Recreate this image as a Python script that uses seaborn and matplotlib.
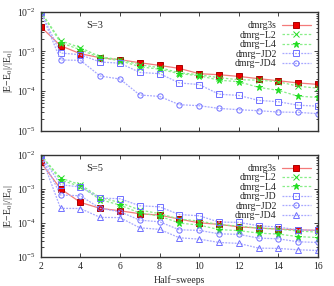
import matplotlib
matplotlib.use("Agg")
import matplotlib.pyplot as plt
import matplotlib.ticker as mticker
import pandas as pd
import seaborn as sns

sweeps = [2, 3, 4, 5, 6, 7, 8, 9, 10, 11, 12, 13, 14, 15, 16]

# S=3 panel
s3_dmrg3s = [4.19e-3, 1.39e-3, 8.73e-4, 6.92e-4, 6.17e-4, 5.18e-4, 4.43e-4, 3.72e-4,
             2.74e-4, 2.58e-4, 2.34e-4, 2.05e-4, 1.82e-4, 1.60e-4, 1.47e-4]
s3_L2 = [1.0e-2, 1.86e-3, 1.24e-3, 7.34e-4, 6.17e-4, 4.61e-4, 3.88e-4, 2.90e-4,
         2.58e-4, 2.17e-4, 1.93e-4, 1.88e-4, 1.72e-4, 1.32e-4, 1.18e-4]
s3_L4 = [1.0e-2, 1.66e-3, 1.10e-3, 6.92e-4, 5.82e-4, 4.11e-4, 3.55e-4, 2.74e-4,
         2.44e-4, 1.88e-4, 1.72e-4, 1.24e-4, 1.04e-4, 7.41e-5, 6.92e-5]
s3_JD2 = [1.0e-2, 9.10e-4, 8.24e-4, 5.40e-4, 5.04e-4, 2.95e-4, 2.74e-4, 1.60e-4,
          1.46e-4, 8.32e-5, 7.76e-5, 5.81e-5, 5.38e-5, 4.40e-5, 4.15e-5]
s3_JD4 = [1.0e-2, 6.06e-4, 5.95e-4, 2.39e-4, 2.01e-4, 7.94e-5, 7.33e-5, 4.53e-5,
          4.27e-5, 3.65e-5, 3.39e-5, 3.19e-5, 2.96e-5, 2.90e-5, 2.69e-5]

# S=5 panel
s5_dmrg3s = [6.10e-3, 1.02e-3, 4.06e-4, 2.71e-4, 2.30e-4, 1.88e-4, 1.72e-4, 1.31e-4,
             1.02e-4, 9.16e-5, 7.78e-5, 7.13e-5, 6.67e-5, 6.35e-5, 6.10e-5]
s5_L2 = [1.0e-2, 2.11e-3, 1.34e-3, 5.62e-4, 4.01e-4, 2.41e-4, 1.90e-4, 1.31e-4,
         1.15e-4, 9.04e-5, 8.17e-5, 7.13e-5, 6.67e-5, 5.82e-5, 5.43e-5]
s5_L4 = [1.0e-2, 1.84e-3, 1.19e-3, 4.91e-4, 3.38e-4, 1.97e-4, 1.61e-4, 1.00e-4,
         8.73e-5, 6.44e-5, 6.01e-5, 5.08e-5, 4.74e-5, 4.01e-5, 3.75e-5]
s5_JD = [1.0e-2, 1.34e-3, 1.15e-3, 5.43e-4, 5.19e-4, 3.23e-4, 3.01e-4, 1.78e-4,
         1.64e-4, 1.07e-4, 1.05e-4, 8.34e-5, 7.62e-5, 6.35e-5, 6.10e-5]
s5_JD2 = [1.0e-2, 6.67e-4, 6.35e-4, 2.71e-4, 2.15e-4, 1.22e-4, 1.09e-4, 6.35e-5,
          6.10e-5, 4.84e-5, 4.66e-5, 3.62e-5, 3.45e-5, 2.82e-5, 2.70e-5]
s5_JD4 = [1.0e-2, 2.71e-4, 2.68e-4, 1.47e-4, 1.45e-4, 7.28e-5, 6.53e-5, 3.70e-5,
          3.38e-5, 2.70e-5, 2.53e-5, 1.84e-5, 1.80e-5, 1.64e-5, 1.57e-5]

sns.set_style("ticks")
plt.rcParams["font.family"] = ["Liberation Serif", "DejaVu Serif"]
plt.rcParams["mathtext.fontset"] = "stix"
plt.rcParams["xtick.direction"] = "in"
plt.rcParams["ytick.direction"] = "in"

RED, RED_L = "#ee0000", "#f47a7a"
GRN, GRN_L = "#22dd22", "#88ee88"
BLU, BLU_L = "#7070ff", "#a8a8ff"

# label -> (line color, marker face, marker edge, linestyle)
styles = {
    "dmrg3s": (RED_L, RED, "#aa0000", "-"),
    "dmrg\u2212L2": (GRN_L, GRN, GRN, (0, (2, 1.5))),
    "dmrg\u2212L4": (GRN_L, GRN, GRN, (0, (2, 1.5))),
    "dmrg\u2212JD": (BLU_L, "none", BLU, (0, (1.5, 1))),
    "dmrg\u2212JD2": (BLU_L, "none", BLU, (0, (1.5, 1))),
    "dmrg\u2212JD4": (BLU_L, "none", BLU, (0, (1.5, 1))),
}

top_series = [
    ("dmrg3s", s3_dmrg3s, "s"),
    ("dmrg\u2212L2", s3_L2, "x"),
    ("dmrg\u2212L4", s3_L4, "*"),
    ("dmrg\u2212JD2", s3_JD2, "s"),
    ("dmrg\u2212JD4", s3_JD4, "o"),
]
bot_series = [
    ("dmrg3s", s5_dmrg3s, "s"),
    ("dmrg\u2212L2", s5_L2, "x"),
    ("dmrg\u2212L4", s5_L4, "*"),
    ("dmrg\u2212JD", s5_JD, "s"),
    ("dmrg\u2212JD2", s5_JD2, "o"),
    ("dmrg\u2212JD4", s5_JD4, "^"),
]

fig = plt.figure(figsize=(3.34, 2.86), dpi=100)
ax1 = fig.add_axes([0.122, 0.543, 0.830, 0.416])
ax2 = fig.add_axes([0.122, 0.101, 0.830, 0.357])


def draw(ax, series, tag):
    for label, vals, mk in series:
        lc, mfc, mec, ls = styles[label]
        df = pd.DataFrame({"x": sweeps, "y": vals})
        sns.lineplot(
            data=df, x="x", y="y", ax=ax, estimator=None, label=label,
            color=lc, linestyle=ls, lw=0.9, marker=mk,
            markersize=4.5 if mk == "*" else 3.8,
            markerfacecolor=mfc, markeredgecolor=mec, markeredgewidth=0.7,
        )
    ax.set_yscale("log")
    ax.set_ylim(1e-5, 1e-2)
    ax.set_xlim(2, 16)
    ax.xaxis.set_major_locator(mticker.MultipleLocator(2))
    ax.tick_params(which="both", top=True, right=True, labelsize=7, length=3, width=0.6)
    ax.tick_params(which="minor", length=1.8)
    ax.set_ylabel("|E\u2212E$_0$|/|E$_0$|", fontsize=7, labelpad=1)
    ax.set_xlabel("")
    for sp in ax.spines.values():
        sp.set_linewidth(1.0)
        sp.set_color("#333333")
    ax.text(0.195, 0.885 if tag == "S=3" else 0.87, tag, transform=ax.transAxes,
            fontsize=7.5, ha="center", va="center")
    ax.legend(loc="upper right", bbox_to_anchor=(0.995, 0.97), frameon=False,
              markerfirst=False, fontsize=7, handlelength=3.0, handletextpad=0.5,
              labelspacing=0.05, borderaxespad=0.2)


draw(ax1, top_series, "S=3")
draw(ax2, bot_series, "S=5")
ax1.tick_params(labelbottom=False)
ax2.set_xlabel("Half\u2212sweeps", fontsize=7, labelpad=3)

fig.savefig("out.png", dpi=100)
